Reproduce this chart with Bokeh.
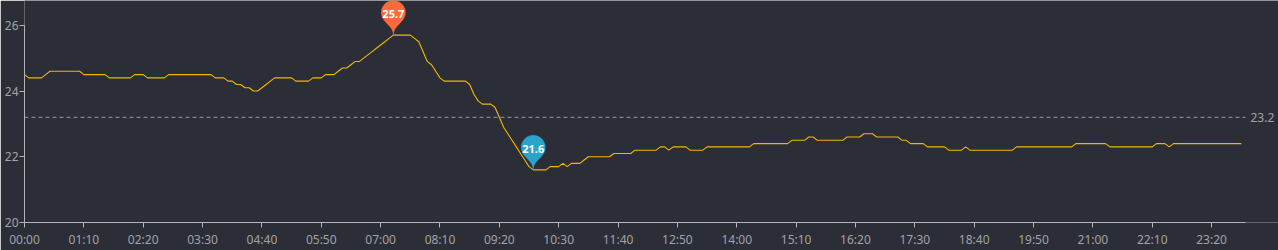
import math
from bokeh.plotting import figure
from bokeh.models import Range1d, FixedTicker
from bokeh.embed import file_html
from bokeh.resources import INLINE
from bokeh.core.properties import value

# ---------------- data ----------------
times = [f"{h:02d}:{m:02d}" for h in range(24) for m in range(0, 60, 5)]

temperature = [
    24.5, 24.4, 24.4, 24.4, 24.4, 24.5, 24.6, 24.6, 24.6, 24.6, 24.6, 24.6,
    24.6, 24.6, 24.5, 24.5, 24.5, 24.5, 24.5, 24.5, 24.4, 24.4, 24.4, 24.4,
    24.4, 24.4, 24.5, 24.5, 24.5, 24.4, 24.4, 24.4, 24.4, 24.4, 24.5, 24.5,
    24.5, 24.5, 24.5, 24.5, 24.5, 24.5, 24.5, 24.5, 24.5, 24.4, 24.4, 24.4,
    24.3, 24.3, 24.2, 24.2, 24.1, 24.1, 24.0, 24.0, 24.1, 24.2, 24.3, 24.4,
    24.4, 24.4, 24.4, 24.4, 24.3, 24.3, 24.3, 24.3, 24.4, 24.4, 24.4, 24.5,
    24.5, 24.5, 24.6, 24.7, 24.7, 24.8, 24.9, 24.9, 25.0, 25.1, 25.2, 25.3,
    25.4, 25.5, 25.6, 25.7, 25.7, 25.7, 25.7, 25.7, 25.6, 25.5, 25.2, 24.9,
    24.8, 24.6, 24.4, 24.3, 24.3, 24.3, 24.3, 24.3, 24.3, 24.2, 23.9, 23.7,
    23.6, 23.6, 23.6, 23.5, 23.2, 22.9, 22.7, 22.5, 22.3, 22.1, 21.9, 21.7,
    21.6, 21.6, 21.6, 21.6, 21.7, 21.7, 21.7, 21.8, 21.7, 21.8, 21.8, 21.8,
    21.9, 22.0, 22.0, 22.0, 22.0, 22.0, 22.0, 22.1, 22.1, 22.1, 22.1, 22.1,
    22.2, 22.2, 22.2, 22.2, 22.2, 22.2, 22.3, 22.3, 22.2, 22.3, 22.3, 22.3,
    22.3, 22.2, 22.2, 22.2, 22.2, 22.3, 22.3, 22.3, 22.3, 22.3, 22.3, 22.3,
    22.3, 22.3, 22.3, 22.3, 22.4, 22.4, 22.4, 22.4, 22.4, 22.4, 22.4, 22.4,
    22.4, 22.5, 22.5, 22.5, 22.5, 22.6, 22.6, 22.5, 22.5, 22.5, 22.5, 22.5,
    22.5, 22.5, 22.6, 22.6, 22.6, 22.6, 22.7, 22.7, 22.7, 22.6, 22.6, 22.6,
    22.6, 22.6, 22.6, 22.5, 22.5, 22.4, 22.4, 22.4, 22.4, 22.3, 22.3, 22.3,
    22.3, 22.3, 22.2, 22.2, 22.2, 22.2, 22.3, 22.2, 22.2, 22.2, 22.2, 22.2,
    22.2, 22.2, 22.2, 22.2, 22.2, 22.2, 22.3, 22.3, 22.3, 22.3, 22.3, 22.3,
    22.3, 22.3, 22.3, 22.3, 22.3, 22.3, 22.3, 22.3, 22.4, 22.4, 22.4, 22.4,
    22.4, 22.4, 22.4, 22.4, 22.3, 22.3, 22.3, 22.3, 22.3, 22.3, 22.3, 22.3,
    22.3, 22.3, 22.3, 22.4, 22.4, 22.4, 22.3, 22.4, 22.4, 22.4, 22.4, 22.4,
    22.4, 22.4, 22.4, 22.4, 22.4, 22.4, 22.4, 22.4, 22.4, 22.4, 22.4, 22.4,
]

tick_labels = ["00:00", "01:10", "02:20", "03:30", "04:40", "05:50", "07:00",
               "08:10", "09:20", "10:30", "11:40", "12:50", "14:00", "15:10",
               "16:20", "17:30", "18:40", "19:50", "21:00", "22:10", "23:20"]
y_ticks = [20, 22, 24, 26]
average_value = 23.2

# ---------------- style ----------------
BG = "#2b2e36"
AXIS_COLOR = "#b4b4b8"
LABEL_COLOR = "#a2a2a8"
LINE_COLOR = "#f2b800"
MAX_COLOR = "#ff6a3b"
MIN_COLOR = "#2ba4ca"
FONT = "Noto Sans"

W, H = 1278, 250
L, R, T, B = 24, 0, 0, 26
FW, FH = W - L - R, H - T - B
TOP_PAD_PX = 25          # empty strip above the value 26 (room for the pin)
DATA_W_PX = 1221         # width of the data area (the rest holds the average label)

x_idx = list(range(len(temperature)))
x_end = len(times)
y_min, y_max = y_ticks[0], y_ticks[-1]

xpp = x_end / DATA_W_PX                               # data units per pixel
ypp = (y_max - y_min) / (FH - TOP_PAD_PX)
x_frame_end = FW * xpp
y_frame_end = y_min + FH * ypp

p = figure(width=W, height=H, x_range=Range1d(0, x_frame_end), y_range=Range1d(y_min, y_frame_end),
           output_backend="svg", toolbar_location=None,
           min_border_left=L, min_border_right=R, min_border_top=T, min_border_bottom=B,
           background_fill_color=BG, border_fill_color=BG)
p.outline_line_color = BG
p.outline_line_alpha = 0
p.xgrid.visible = False
p.ygrid.visible = False

# axes
tick_pos = [times.index(t) for t in tick_labels]
p.xaxis.ticker = FixedTicker(ticks=tick_pos, minor_ticks=[])
p.xaxis.major_label_overrides = {i: t for i, t in zip(tick_pos, tick_labels)}
p.xaxis.bounds = (0, x_end)
p.yaxis.ticker = FixedTicker(ticks=y_ticks, minor_ticks=[])
p.yaxis.bounds = (y_min, y_max)
for ax in (p.xaxis, p.yaxis):
    ax.axis_line_color = AXIS_COLOR
    ax.major_tick_line_color = AXIS_COLOR
    ax.major_tick_in = 0
    ax.major_tick_out = 5
    ax.minor_tick_line_color = None
    ax.major_label_text_color = LABEL_COLOR
    ax.major_label_text_font = FONT
    ax.major_label_text_font_size = "12px"
p.xaxis.major_label_standoff = 3
p.yaxis.major_label_standoff = 1

# average line + label
p.segment(x0=[0], y0=[average_value], x1=[x_end], y1=[average_value],
          line_color="#9a9aa0", line_width=1, line_dash="4 3")
p.text(x=[x_end], y=[average_value], text=[f"{average_value:.1f}"], x_offset=5,
       text_baseline="middle", text_align="left", text_color=LABEL_COLOR,
       text_font=value(FONT), text_font_size="12px")

# series line
p.line(x_idx, temperature, line_color=LINE_COLOR, line_width=1.1)


# pin markers (ECharts 'pin' shape, size 40)
def pin_outline(size=40, n_arc=32, n_bez=12):
    w = size / 5 * 3
    h = max(w, size)
    r = w / 2
    dy = r * r / (h - r)
    cy = -h + r + dy
    a = math.asin(dy / r)
    dx = math.cos(a) * r
    tx, ty = math.sin(a), math.cos(a)
    c1, c2 = r * 0.6, r * 0.7
    pts = []
    for i in range(n_arc + 1):
        t = math.pi - a + (math.pi + 2 * a) * i / n_arc
        pts.append((r * math.cos(t), cy + r * math.sin(t)))

    def bez(p0, p1, p2, p3):
        out = []
        for i in range(1, n_bez + 1):
            s = i / n_bez
            u = 1 - s
            out.append((u**3 * p0[0] + 3 * u * u * s * p1[0] + 3 * u * s * s * p2[0] + s**3 * p3[0],
                        u**3 * p0[1] + 3 * u * u * s * p1[1] + 3 * u * s * s * p2[1] + s**3 * p3[1]))
        return out
    pts += bez((dx, cy + dy), (dx - tx * c1, cy + dy + ty * c1), (0, -c2), (0, 0))
    pts += bez((0, 0), (0, -c2), (-dx + tx * c1, cy + dy + ty * c1), (-dx, cy + dy))
    return pts


outline = pin_outline()
i_max = temperature.index(max(temperature))
i_min = temperature.index(min(temperature))
for i, color in ((i_max, MAX_COLOR), (i_min, MIN_COLOR)):
    v = temperature[i]
    xs = [i + px * xpp for px, py in outline]
    ys = [v - py * ypp for px, py in outline]
    p.patch(xs, ys, fill_color=color, line_color=color, line_width=0.5)
    p.text(x=[i], y=[v + 21 * ypp], text=[f"{v:.1f}"], text_align="center",
           text_baseline="middle", text_color="white", text_font=value(FONT),
           text_font_size="11px", text_font_style="bold")

open("out.html", "w").write(file_html(p, INLINE))
